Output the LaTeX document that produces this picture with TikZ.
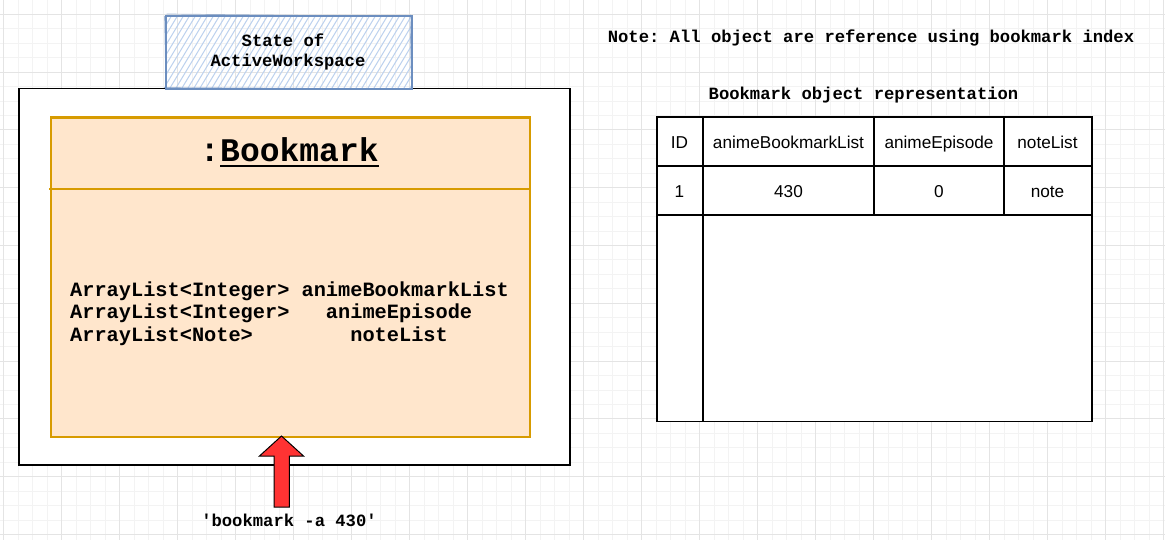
\documentclass[tikz,border=0pt]{standalone}
\usepackage{fontspec}
\setmainfont{Liberation Sans}
\newfontfamily\cour{Liberation Mono}
\frenchspacing
\definecolor{gridminor}{HTML}{F3F3F3}
\definecolor{gridmajor}{HTML}{E4E4E4}
\definecolor{hatchline}{HTML}{BCD1EE}
\definecolor{hatchborder}{HTML}{6C8EBF}
\definecolor{classfill}{HTML}{FFE6CC}
\definecolor{classborder}{HTML}{D79B00}
\definecolor{arrowred}{HTML}{FF3333}
\tikzset{
  gridmin/.style={draw=gridminor, line width=0.8pt},
  gridmaj/.style={draw=gridmajor, line width=0.9pt},
  hatch/.style={draw=hatchline, line width=1pt},
  monosmall/.style={font=\cour\bfseries\fontsize{17.2}{20}\selectfont, inner sep=0pt},
  monoattr/.style={font=\cour\bfseries\fontsize{20.3}{22.5}\selectfont, inner sep=0pt, anchor=base west},
  monohead/.style={font=\cour\bfseries\fontsize{33}{36}\selectfont, inner sep=0pt},
  tabtext/.style={font=\fontsize{17.2}{20}\selectfont, inner sep=0pt, anchor=base},
  tabline/.style={draw=black, line width=1.5pt},
}
\begin{document}
\begin{tikzpicture}[x=1pt,y=-1pt]
\useasboundingbox (0,0) rectangle (1165,540);
\fill[white] (0,0) rectangle (1165,540);
% grid
\foreach \i in {0,...,80} { \draw[gridmin] ({3.7+14.5*\i},0) -- ({3.7+14.5*\i},540); }
\foreach \i in {0,...,38} { \draw[gridmin] (0,{-0.2+14.45*\i}) -- (1165,{-0.2+14.45*\i}); }
\foreach \i in {0,...,20} { \draw[gridmaj] ({3.7+58*\i},0) -- ({3.7+58*\i},540); }
\foreach \i in {0,...,10} { \draw[gridmaj] (0,{14.3+57.8*\i}) -- (1165,{14.3+57.8*\i}); }

% outer white box
\node[draw=black, fill=white, line width=1.5pt, minimum width=551pt, minimum height=376pt, inner sep=0pt, anchor=north west] (outer) at (18,88) {};

% hatched state box
\begin{scope}
\clip (165,15) rectangle (411,88);
\foreach \x in {110,116,...,470} { \draw[hatch] (\x,88) -- ({\x+44},15); }
\end{scope}
\node[draw=hatchborder, line width=1.6pt, minimum width=246pt, minimum height=73pt, inner sep=0pt, anchor=north west] (state) at (165,15) {};
\draw[hatchborder, line width=0.7pt, opacity=0.6] (166.5,14) -- (409,16.5) (410,14.5) -- (411.5,87) (409.5,89) -- (164,87.5) (166,88.5) -- (164.5,16);
\node[monosmall, anchor=base] (stateA) at (283,47) {State of};
\node[monosmall, anchor=base] (stateB) at (288,67) {ActiveWorkspace};

% class box
\node[draw=classborder, fill=classfill, line width=2.5pt, minimum width=479pt, minimum height=319pt, inner sep=0pt, anchor=north west] (cls) at (49.5,116.5) {};
\coordinate (divL) at (49,189);
\coordinate (divR) at (528.5,189);
\draw[classborder, line width=2.5pt] (divL) -- (divR);
\node[monohead, anchor=base west] (hdrB) at (220,162) {Bookmark};
\node[monohead, anchor=base east] (hdrC) at (hdrB.base west) {:};
\draw[black, line width=2pt] ([yshift=-4pt]hdrB.base west) -- ([yshift=-4pt]hdrB.base east);

\node[monoattr] (attr1) at (70,296) {ArrayList<Integer> animeBookmarkList};
\node[monoattr] (attr2) at (70,318.5) {ArrayList<Integer>\ \ \ animeEpisode};
\node[monoattr] (attr3) at (70,341) {ArrayList<Note>\ \ \ \ \ \ \ \ noteList};

% red arrow
\coordinate (tip) at (281.5,436);
\filldraw[fill=arrowred, draw=black, line width=1pt, line join=miter]
  (tip) -- (303.5,456) -- (289.3,456) -- (289.3,507) -- (274,507) -- (274,456) -- (259.5,456) -- cycle;
\node[monosmall, anchor=base] (cmd) at (289,526) {'bookmark -a 430'};

% notes
\node[monosmall, anchor=base] (note) at (871,42.5) {Note: All object are reference using bookmark index};
\node[monosmall, anchor=base] (rep) at (863.5,100) {Bookmark object representation};

% table
\node[tabline, fill=white, minimum width=435pt, minimum height=304pt, inner sep=0pt, anchor=north west] (tab) at (656,116.5) {};
\draw[tabline] (656,166) -- (1091,166);
\draw[tabline] (656,215) -- (1091,215);
\draw[tabline] (703,116.5) -- (703,420.5);
\draw[tabline] (874,116.5) -- (874,215);
\draw[tabline] (1004,116.5) -- (1004,215);
\node[tabtext] (h1) at (679.5,148.5) {ID};
\node[tabtext] (h2) at (788.5,148.5) {animeBookmarkList};
\node[tabtext] (h3) at (939,148.5) {animeEpisode};
\node[tabtext] (h4) at (1047.5,148.5) {noteList};
\node[tabtext] (r1) at (679.5,197.8) {1};
\node[tabtext] (r2) at (788.5,197.8) {430};
\node[tabtext] (r3) at (939,197.8) {0};
\node[tabtext] (r4) at (1047.5,197.8) {note};
\end{tikzpicture}
\end{document}
